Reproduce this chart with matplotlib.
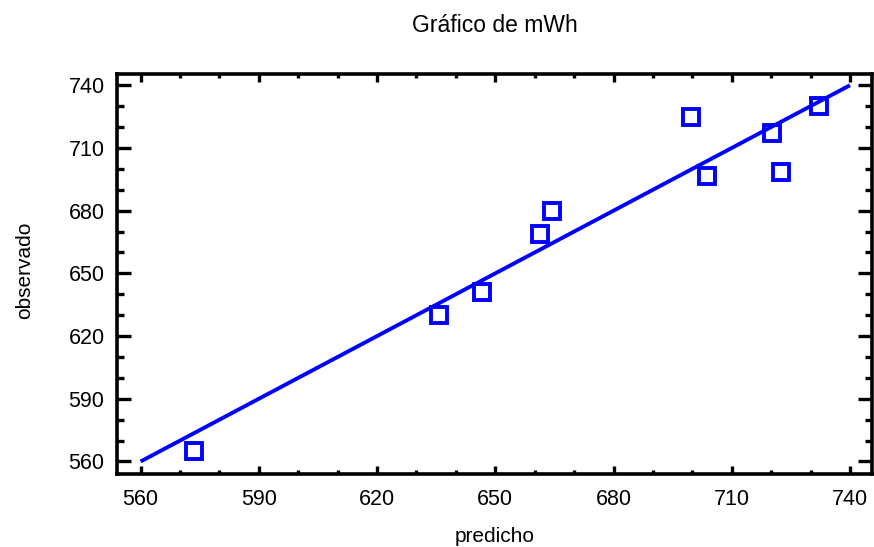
import matplotlib
matplotlib.use("Agg")
import matplotlib.pyplot as plt
from matplotlib.ticker import FixedLocator

plt.rcParams['font.family'] = ['Liberation Sans', 'DejaVu Sans']

predicho = [573.5, 635.7, 646.6, 661.3, 664.4, 699.7, 703.7, 720.2, 722.5, 732.2]
observado = [565.1, 630.2, 641.0, 669.0, 680.0, 724.8, 696.8, 717.2, 698.5, 730.1]
diag = [560, 740]
major_ticks = [560, 590, 620, 650, 680, 710, 740]
minor_ticks = [570, 580, 600, 610, 630, 640, 660, 670, 690, 700, 720, 730]

fig = plt.figure(figsize=(8.74, 5.47), dpi=100)
ax = fig.add_axes([117 / 874, 73 / 547, 755 / 874, 400 / 547])

ax.plot(diag, diag, color='#0000ff', lw=2.8, solid_capstyle='butt')
ax.plot(predicho, observado, ls='none', marker='s', ms=11.5, mfc='none',
        mec='#0000ff', mew=2.8)

ax.set_xlim(554, 745.6)
ax.set_ylim(554, 745.4)
for axis in (ax.xaxis, ax.yaxis):
    axis.set_major_locator(FixedLocator(major_ticks))
    axis.set_minor_locator(FixedLocator(minor_ticks))

for s in ax.spines.values():
    s.set_linewidth(2.6)

ax.tick_params(axis='both', which='both', direction='in', top=True, right=True,
               width=2.4, labelsize=15.5)
ax.tick_params(axis='x', which='major', length=6, pad=11)
ax.tick_params(axis='x', which='minor', length=3)
ax.tick_params(axis='y', which='major', length=10, pad=9)
ax.tick_params(axis='y', which='minor', length=5)

fig.text(495 / 874, 1 - 25 / 547, 'Gráfico de mWh', ha='center', va='center', fontsize=16.5)
fig.text(495 / 874, 1 - 536 / 547, 'predicho', ha='center', va='center', fontsize=15)
fig.text(25 / 874, 1 - 270 / 547, 'observado', ha='center', va='center',
         rotation=90, fontsize=15)

fig.savefig('out.png', dpi=100)
